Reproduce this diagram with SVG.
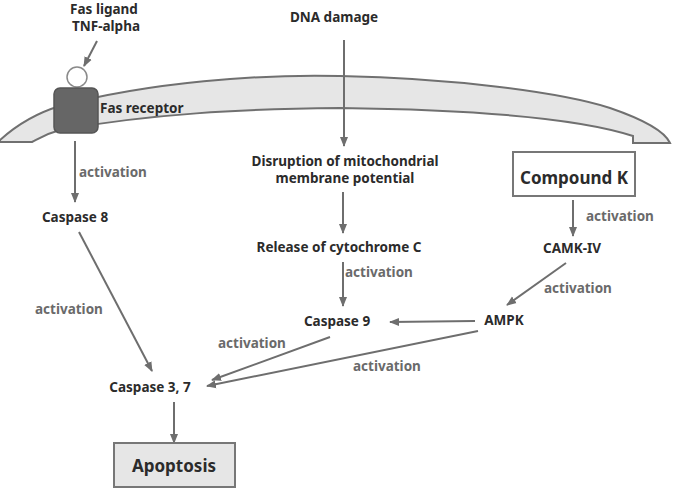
<svg xmlns="http://www.w3.org/2000/svg" width="679" height="498" viewBox="0 0 679 498">
<style>
.n{font-family:"Noto Sans","Open Sans",sans-serif;font-weight:bold;font-size:13.5px;fill:#2b2b2b}
.a{font-family:"Noto Sans","Open Sans",sans-serif;font-weight:bold;font-size:13.5px;fill:#6a6a6a}
.c{stroke:#6e6e6e;stroke-width:2;fill:none;marker-end:url(#ah)}
</style>
<defs>
<marker id="ah" markerUnits="userSpaceOnUse" markerWidth="10" markerHeight="10" viewBox="0 0 10 10" refX="9" refY="5" orient="auto">
<path d="M0,1 L10,5 L0,9 Z" fill="#6e6e6e"/>
</marker>
</defs>
<rect width="679" height="498" fill="#fff"/>
<g id="membrane">
<path d="M0,140 C20,122 40,112 60,106 C150,82 260,74 340,76 C450,78 560,92 610,108 C645,120 665,132 670,143 L633,143 L633,136 C590,122 500,110 340,108 C240,109 150,114 60,130 C45,134 38,139 32,142 L0,142 Z" fill="#e6e6e6" stroke="#707070" stroke-width="2"/>
</g>
<g id="connectors">
<line class="c" x1="97" y1="41" x2="84" y2="66"/>
<line class="c" x1="344" y1="40" x2="344" y2="146"/>
<line class="c" x1="75" y1="141" x2="75" y2="202"/>
<line class="c" x1="343" y1="192" x2="343" y2="233"/>
<line class="c" x1="343" y1="262" x2="343" y2="306"/>
<line class="c" x1="573" y1="200" x2="573" y2="236"/>
<line class="c" x1="566" y1="263" x2="507" y2="305"/>
<line class="c" x1="475" y1="321" x2="390" y2="322"/>
<line class="c" x1="79" y1="232" x2="152" y2="371"/>
<line class="c" x1="330" y1="337" x2="212" y2="380"/>
<line class="c" x1="478" y1="331" x2="207" y2="386"/>
<line class="c" x1="174" y1="402" x2="174" y2="443"/>
</g>
<g id="ligand">
<circle cx="77" cy="77" r="10" fill="#fff" stroke="#8a8a8a" stroke-width="1.5"/>
<text class="n" x="104" y="14" text-anchor="middle">Fas ligand</text>
<text class="n" x="106" y="31" text-anchor="middle">TNF-alpha</text>
</g>
<g id="receptor">
<rect x="54" y="88" width="44" height="45" rx="6" fill="#666" stroke="#555" stroke-width="1.5"/>
<text class="n" x="100" y="113">Fas receptor</text>
</g>
<g id="dna"><text class="n" x="334" y="22" text-anchor="middle">DNA damage</text></g>
<g id="disruption">
<text class="n" x="345" y="166" text-anchor="middle">Disruption of mitochondrial</text>
<text class="n" x="345" y="183" text-anchor="middle">membrane potential</text>
</g>
<g id="release"><text class="n" x="339" y="252" text-anchor="middle">Release of cytochrome C</text></g>
<g id="casp9"><text class="n" x="337" y="326" text-anchor="middle">Caspase 9</text></g>
<g id="compoundk">
<rect x="513" y="152" width="122" height="44" fill="#fff" stroke="#777" stroke-width="2"/>
<text class="n" x="574" y="184" text-anchor="middle" style="font-size:17px">Compound K</text>
</g>
<g id="camk"><text class="n" x="572" y="253" text-anchor="middle">CAMK-IV</text></g>
<g id="ampk"><text class="n" x="504" y="325" text-anchor="middle">AMPK</text></g>
<g id="casp8"><text class="n" x="75" y="222" text-anchor="middle">Caspase 8</text></g>
<g id="casp37"><text class="n" x="150" y="392" text-anchor="middle">Caspase 3, 7</text></g>
<g id="apoptosis">
<rect x="114" y="443" width="121" height="44" fill="#e6e6e6" stroke="#777" stroke-width="2"/>
<text class="n" x="174" y="472" text-anchor="middle" style="font-size:17px">Apoptosis</text>
</g>
<g id="labels">
<text class="a" x="79" y="177">activation</text>
<text class="a" x="35" y="314">activation</text>
<text class="a" x="345" y="277">activation</text>
<text class="a" x="586" y="221">activation</text>
<text class="a" x="544" y="293">activation</text>
<text class="a" x="218" y="348">activation</text>
<text class="a" x="353" y="371">activation</text>
</g>
</svg>
